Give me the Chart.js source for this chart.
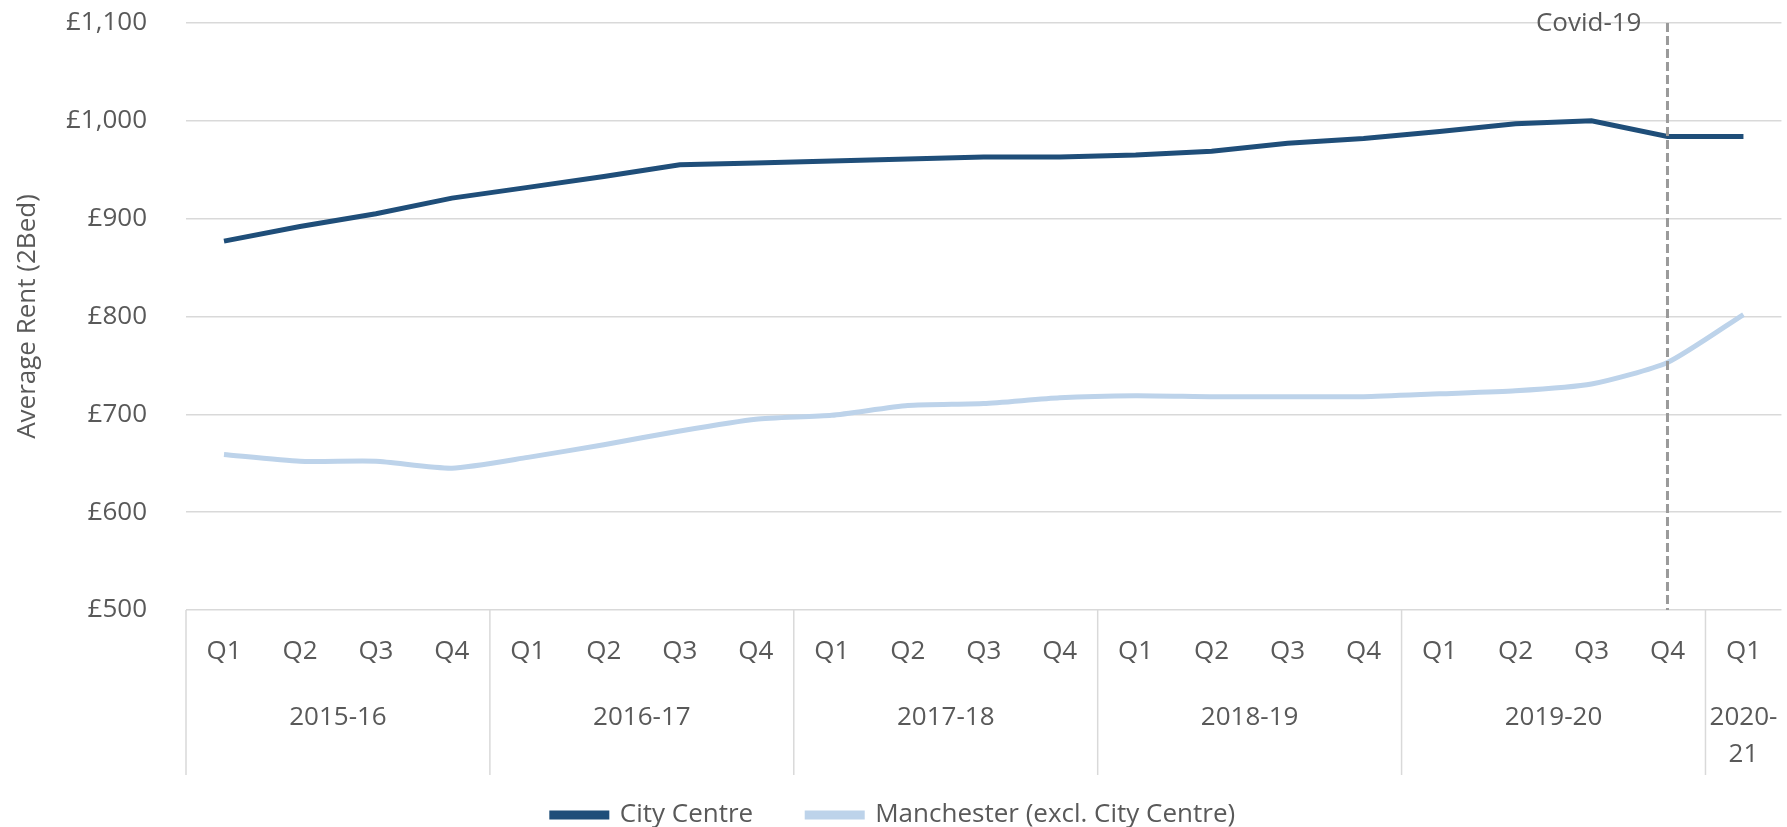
<!DOCTYPE html>
<html>
<head>
<meta charset="utf-8">
<script src="https://cdn.jsdelivr.net/npm/chart.js@4/dist/chart.umd.min.js"></script>
<style>
  body { margin: 0; background: #fff; }
  #wrap { width: 1787px; height: 827px; }
</style>
</head>
<body>
<div id="wrap"><canvas id="rentChart" width="1787" height="827"></canvas></div>
<script>
// quarters shown on the x axis
var quarters = ['Q1','Q2','Q3','Q4','Q1','Q2','Q3','Q4','Q1','Q2','Q3','Q4',
                'Q1','Q2','Q3','Q4','Q1','Q2','Q3','Q4','Q1'];
// financial years and how many quarters each one covers
var years = ['2015-16','2016-17','2017-18','2018-19','2019-20',['2020-','21']];
var quartersPerYear = [4, 4, 4, 4, 4, 1];

var cityCentre = [877, 892, 905, 921, 932, 943, 955, 957, 959, 961, 963,
                  963, 965, 969, 977, 982, 989, 997, 1000, 984, 984];
var manchester = [659, 652, 652, 645, 656, 669, 683, 695, 699, 709, 711,
                  717, 719, 718, 718, 718, 721, 724, 731, 753, 802];

var yMin = 500, yMax = 1100, yStep = 100;
var covidIndex = 19;
var covidLabel = 'Covid-19';

var textColor = '#595959';
var fontFamily = '"Open Sans", sans-serif';
var legendPad = 54;

// year labels + group separators under the quarter labels, and the covid marker
var extrasPlugin = {
    id: 'extras',
    afterLayout: function(chart) {
        // push legend down so its text sits near the bottom edge
        var lg = chart.legend;
        var shift = 815 - (lg.top + legendPad + 13);
        lg.top += shift;
        lg.bottom += shift;
    },
    afterDraw: function(chart) {
        var ctx = chart.ctx;
        var x = chart.scales.x, y = chart.scales.y;
        var half = (x.getPixelForValue(1) - x.getPixelForValue(0)) / 2;
        var axisY = y.getPixelForValue(yMin);

        ctx.save();
        ctx.strokeStyle = '#d9d9d9';
        ctx.lineWidth = 1.5;
        ctx.fillStyle = textColor;
        ctx.font = '26px ' + fontFamily;
        ctx.textAlign = 'center';
        ctx.textBaseline = 'middle';

        var start = 0;
        for (var i = 0; i < years.length; i++) {
            var left = x.getPixelForValue(start) - half;
            ctx.beginPath();
            ctx.moveTo(left, axisY);
            ctx.lineTo(left, axisY + 165);
            ctx.stroke();

            var mid = (x.getPixelForValue(start) + x.getPixelForValue(start + quartersPerYear[i] - 1)) / 2;
            var lines = [].concat(years[i]);
            for (var j = 0; j < lines.length; j++) {
                ctx.fillText(lines[j], mid, axisY + 108 + j * 37);
            }
            start += quartersPerYear[i];
        }

        // covid-19 dashed line
        var cx = x.getPixelForValue(covidIndex);
        var topY = y.getPixelForValue(yMax);
        ctx.strokeStyle = '#9a9a9a';
        ctx.lineWidth = 3;
        ctx.setLineDash([9, 4]);
        ctx.beginPath();
        ctx.moveTo(cx, topY);
        ctx.lineTo(cx, axisY);
        ctx.stroke();
        ctx.setLineDash([]);

        ctx.textAlign = 'right';
        ctx.fillText(covidLabel, cx - 26, topY + 1);
        ctx.restore();
    }
};

var ctx = document.getElementById('rentChart').getContext('2d');
var chart = new Chart(ctx, {
    type: 'line',
    data: {
        labels: quarters,
        datasets: [{
            label: 'City Centre',
            data: cityCentre,
            borderColor: '#1f4e79',
            backgroundColor: '#1f4e79',
            borderWidth: 5,
            pointRadius: 0,
            tension: 0
        }, {
            label: 'Manchester (excl. City Centre)',
            data: manchester,
            borderColor: '#bdd3ea',
            backgroundColor: '#bdd3ea',
            borderWidth: 5,
            pointRadius: 0,
            tension: 0.2
        }]
    },
    options: {
        responsive: false,
        animation: false,
        layout: { padding: { top: 23, right: 0, bottom: 0, left: 0 } },
        plugins: {
            tooltip: { enabled: false },
            legend: {
                position: 'bottom',
                labels: {
                    boxWidth: 55,
                    boxHeight: 4,
                    padding: legendPad,
                    color: textColor,
                    font: { family: fontFamily, size: 26 }
                }
            }
        },
        scales: {
            x: {
                offset: true,
                grid: { display: false, drawTicks: false },
                border: { display: false },
                ticks: {
                    color: textColor,
                    padding: 26,
                    maxRotation: 0,
                    autoSkip: false,
                    font: { family: fontFamily, size: 26 }
                },
                afterFit: function(scale) { scale.height = 127; }
            },
            y: {
                min: yMin,
                max: yMax,
                grid: { color: '#d9d9d9', lineWidth: 1.5, drawTicks: false },
                border: { display: false },
                ticks: {
                    stepSize: yStep,
                    color: textColor,
                    padding: 39,
                    font: { family: fontFamily, size: 26 },
                    callback: function(v) { return '£' + v.toLocaleString('en-GB'); }
                },
                title: {
                    display: true,
                    text: 'Average Rent (2Bed)',
                    color: textColor,
                    padding: { top: 12, bottom: 0 },
                    font: { family: fontFamily, size: 26 }
                },
                afterFit: function(scale) {
                    scale.width = 186;
                    scale.paddingTop = 16;
                    scale.paddingBottom = 16;
                }
            }
        }
    },
    plugins: [extrasPlugin]
});
</script>
</body>
</html>
